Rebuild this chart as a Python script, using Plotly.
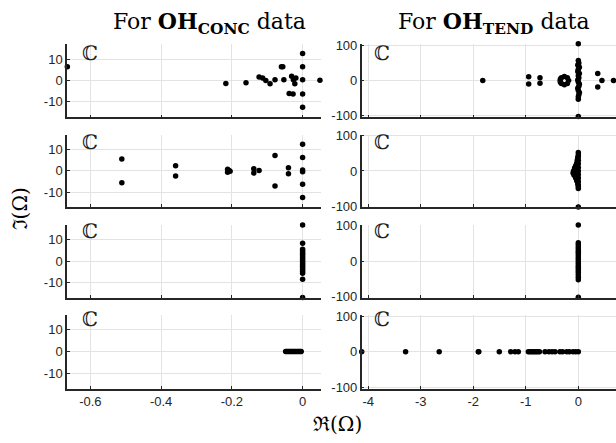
import plotly.graph_objects as go
from plotly.subplots import make_subplots

# ---- Eigenvalues Omega (real part, imaginary part) ----
# Left column: OH_conc data, four rows
conc1_re = [-0.665, -0.217, -0.160, -0.123, -0.113, -0.104, -0.092, -0.078, -0.060, -0.056,
            -0.053, -0.038, -0.027, -0.031, -0.019, -0.022, -0.026, 0.0, 0.0, 0.0, 0.0, 0.0, 0.049]
conc1_im = [6.5, -1.5, -1.2, 1.6, 1.1, -0.1, -1.7, 0.3, 6.5, 6.5,
            0.3, -6.3, -6.6, 1.9, 1.1, -1.7, 0.3, 12.9, 6.5, 0.3, -6.6, -12.9, 0.0]

conc2_re = [-0.511, -0.511, -0.359, -0.359, -0.212, -0.208, -0.212, -0.205, -0.138, -0.138,
            -0.123, -0.078, -0.078, -0.040, -0.040, 0.0, 0.0, 0.0, 0.0, 0.0, 0.0]
conc2_im = [5.6, -5.6, 2.4, -2.4, 0.8, 0.2, -0.7, -0.2, 1.0, -1.0,
            0.2, 7.2, -7.1, 1.4, -1.4, 12.5, 6.3, 0.4, -0.4, -6.3, -12.5]

conc3_re = [0.0, 0.0, 0.0, 0.0, 0.0, 0.0, 0.0, 0.0, 0.0, 0.0,
            0.0, 0.0, 0.0, 0.0, 0.0, 0.0, 0.0, 0.0, 0.0]
conc3_im = [17.0, 8.4, 5.6, 4.8, 4.0, 3.2, 2.4, 1.6, 0.8, 0.0,
            -0.8, -1.6, -2.4, -3.2, -4.0, -4.8, -5.6, -8.4, -17.0]

conc4_re = [-0.048, -0.045, -0.042, -0.039, -0.036, -0.033, -0.030, -0.027,
            -0.024, -0.021, -0.018, -0.015, -0.012, -0.009, -0.006, -0.004]
conc4_im = [0.0, 0.0, 0.0, 0.0, 0.0, 0.0, 0.0, 0.0,
            0.0, 0.0, 0.0, 0.0, 0.0, 0.0, 0.0, 0.0]

# Right column: OH_tend data, four rows
tend1_re = [-1.82, -0.945, -0.945, -0.73, -0.73,
            -0.185, -0.208, -0.265, -0.322, -0.345, -0.322, -0.265, -0.208, -0.340, -0.340,
            0.0, 0.0, 0.01, -0.01, 0.02, 0.0, -0.01, 0.02, 0.0, 0.01, -0.01, 0.0, 0.02, 0.01,
            -0.01, 0.0, 0.02, 0.01, 0.0, 0.0, 0.0,
            0.37, 0.37, 0.45, 0.67]
tend1_im = [0.0, 11.0, -10.0, 8.3, -7.3,
            0.0, 8.1, 11.5, 8.1, 0.0, -8.1, -11.5, -8.1, 4.5, -4.5,
            104.5, 57.0, 50.0, 44.0, 38.0, 32.0, 26.0, 20.0, 14.0, 8.0, 2.0, -4.0, -10.0, -16.0,
            -22.0, -28.0, -34.0, -40.0, -46.0, -53.0, -102.0,
            20.0, -18.0, 0.0, 0.0]

tend2_re = [0.0, 0.0, 0.0, -0.01, -0.02, -0.03, -0.05, -0.07, -0.09, -0.10, -0.08, -0.05,
            -0.03, -0.01, 0.0, 0.0, 0.0, 0.0, 0.0, 0.0, 0.0, 0.0, 0.0, 0.0, 0.0, 0.0]
tend2_im = [104.5, 52.0, 45.0, 38.0, 30.0, 22.0, 15.0, 8.0, 0.0, -6.0, -12.0, -20.0,
            -28.0, -36.0, -44.0, -50.0, 40.0, 30.0, 20.0, 10.0, 0.0, -10.0, -20.0, -30.0, -40.0, -102.0]

tend3_re = [0.0, 0.0, 0.0, 0.0, 0.0, 0.0, 0.0, 0.0, 0.0, 0.0, 0.0,
            0.0, 0.0, 0.0, 0.0, 0.0, 0.0, 0.0, 0.0, 0.0]
tend3_im = [102.0, 52.0, 46.0, 40.0, 34.0, 28.0, 22.0, 16.0, 10.0, 4.0, -2.0,
            -8.0, -14.0, -20.0, -26.0, -32.0, -38.0, -45.0, -52.0, -101.0]

tend4_re = [-4.126, -3.29, -2.65, -1.905, -1.895, -1.505, -1.288, -1.206, -1.143,
            -0.952, -0.92, -0.89, -0.86, -0.83, -0.80, -0.77, -0.74,
            -0.634, -0.56, -0.50, -0.444, -0.35, -0.30, -0.22, -0.17, -0.10, -0.05, 0.0]
tend4_im = [0.0, 0.0, 0.0, 0.0, 0.0, 0.0, 0.0, 0.0, 0.0,
            0.0, 0.0, 0.0, 0.0, 0.0, 0.0, 0.0, 0.0,
            0.0, 0.0, 0.0, 0.0, 0.0, 0.0, 0.0, 0.0, 0.0, 0.0, 0.0]

# ---- Axis ticks ----
conc_xtick_vals = [-0.6, -0.4, -0.2, 0]
conc_xtick_text = ["-0.6", "-0.4", "-0.2", "0"]
tend_xtick_vals = [-4, -3, -2, -1, 0]
tend_xtick_text = ["-4", "-3", "-2", "-1", "0"]
conc_ytick_vals = [-10, 0, 10]
conc_ytick_text = ["-10", "0", "10"]
tend_ytick_vals = [-100, 0, 100]
tend_ytick_text = ["-100", "0", "100"]

conc_series = [(conc1_re, conc1_im), (conc2_re, conc2_im), (conc3_re, conc3_im), (conc4_re, conc4_im)]
tend_series = [(tend1_re, tend1_im), (tend2_re, tend2_im), (tend3_re, tend3_im), (tend4_re, tend4_im)]

W, H = 616, 443
conc_xrange = [-0.666, 0.052]
tend_xrange = [-4.126, 0.718]
conc_yranges = [[-17.8, 17.5], [-17.0, 17.0], [-17.0, 17.0], [-17.2, 16.8]]
tend_yranges = [[-104.5, 104.5], [-102.5, 103.0], [-102.0, 102.0], [-104.0, 103.0]]

left_dom = [67 / W, 321 / W]
right_dom = [361.7 / W, 1.0]
row_px = [(38, 114), (131.7, 206.7), (225, 300), (318.3, 394)]
row_dom = [[1 - b / H, 1 - t / H] for t, b in row_px]

AX = "#262626"
GRID = "#e3e3e3"
tick_font = dict(family="Liberation Sans, Arial, sans-serif", size=13, color=AX)
serif = "DejaVu Serif, Liberation Serif, serif"

fig = make_subplots(rows=4, cols=2)

for i in range(4):
    for col, (series, xr, yr, xv, xt, yv, yt, dom) in enumerate([
        (conc_series[i], conc_xrange, conc_yranges[i], conc_xtick_vals, conc_xtick_text,
         conc_ytick_vals, conc_ytick_text, left_dom),
        (tend_series[i], tend_xrange, tend_yranges[i], tend_xtick_vals, tend_xtick_text,
         tend_ytick_vals, tend_ytick_text, right_dom),
    ], start=1):
        re, im = series
        fig.add_trace(go.Scatter(
            x=re, y=im, mode="markers",
            marker=dict(color="black", size=5.5, line=dict(width=0)),
            cliponaxis=False, showlegend=False, hoverinfo="skip"),
            row=i + 1, col=col)
        fig.update_xaxes(
            domain=dom, range=xr, tickmode="array", tickvals=xv, ticktext=xt,
            showticklabels=(i == 3), showgrid=True, gridcolor=GRID, gridwidth=1,
            zeroline=False, showline=True, linecolor=AX, linewidth=1.5,
            ticks="inside", ticklen=3, tickcolor=AX, tickwidth=1, tickfont=tick_font,
            row=i + 1, col=col)
        fig.update_yaxes(
            domain=row_dom[i], range=yr, tickmode="array", tickvals=yv, ticktext=yt,
            showgrid=True, gridcolor=GRID, gridwidth=1,
            zeroline=False, showline=True, linecolor=AX, linewidth=1.5,
            ticks="inside", ticklen=3, tickcolor=AX, tickwidth=1, tickfont=tick_font,
            row=i + 1, col=col)

annotations = []
# Column titles
for cx, sub in [(209, "CONC"), (493.5, "TEND")]:
    annotations.append(dict(
        x=cx / W, y=1 - 17 / H, xref="paper", yref="paper", showarrow=False,
        xanchor="center", yanchor="middle",
        text="For <b>OH<sub>" + sub + "</sub></b> data",
        font=dict(family=serif, size=22, color="black")))
# Complex-plane marker in every panel
c_centers = [47.5, 139, 231, 322.5]
for cy in c_centers:
    for cx in (90, 381.7):
        annotations.append(dict(
            x=cx / W, y=1 - cy / H, xref="paper", yref="paper", showarrow=False,
            xanchor="center", yanchor="middle", text="ℂ",
            font=dict(family=serif, size=20, color="#222222")))
# Axis titles
annotations.append(dict(
    x=337 / W, y=1 - 431 / H, xref="paper", yref="paper", showarrow=False,
    xanchor="center", yanchor="middle", text="ℜ(Ω)",
    font=dict(family=serif, size=20, color="black")))
annotations.append(dict(
    x=20 / W, y=1 - 208 / H, xref="paper", yref="paper", showarrow=False,
    xanchor="center", yanchor="middle", text="ℑ(Ω)", textangle=-90,
    font=dict(family=serif, size=20, color="black")))

fig.update_layout(
    width=W, height=H, margin=dict(l=0, r=0, t=0, b=0),
    paper_bgcolor="white", plot_bgcolor="white",
    annotations=annotations, showlegend=False)

fig.write_html("out.html")
